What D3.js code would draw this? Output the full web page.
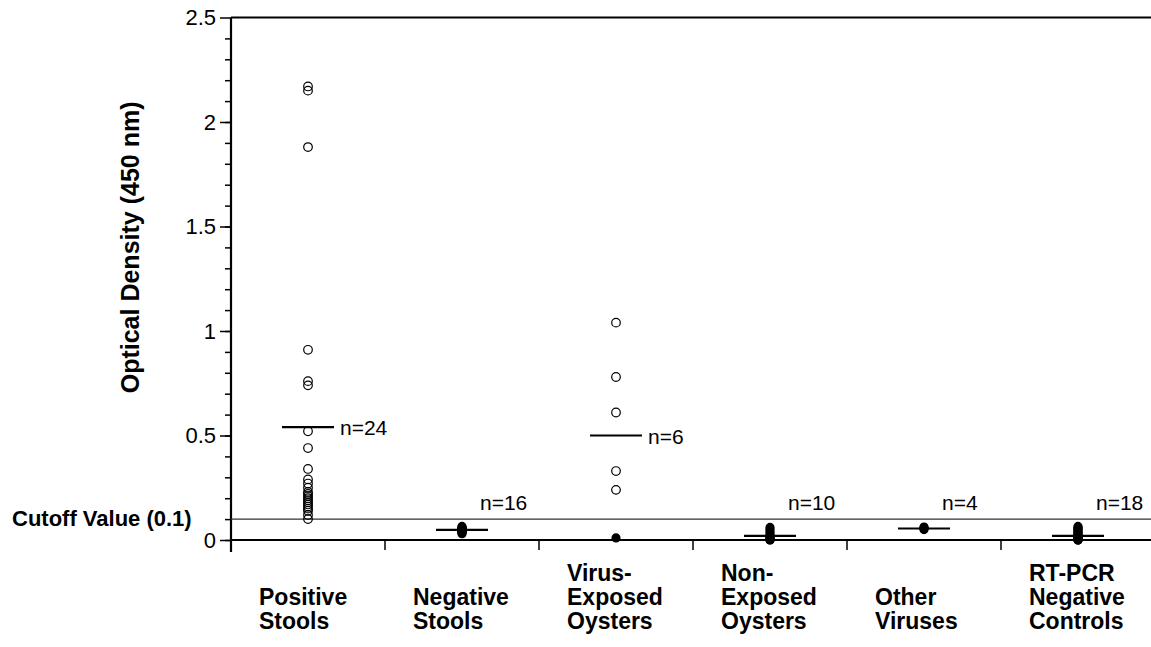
<!DOCTYPE html>
<html lang="en">
<meta charset="utf-8">
<script src="https://d3js.org/d3.v7.min.js"></script>
<style>
  body { margin: 0; background: #fff; }
  svg text { font-family: "Liberation Sans", Arial, sans-serif; fill: #000; }
  .lbl { font-weight: bold; }
</style>
<body>
<svg id="chart" width="1151" height="647"></svg>
<script>
// categories (label lines)
var categories = ["Positive Stools", "Negative Stools", "Virus-Exposed Oysters",
                  "Non-Exposed Oysters", "Other Viruses", "RT-PCR Negative Controls"];
var catLines = [["Positive", "Stools"], ["Negative", "Stools"], ["Virus-", "Exposed", "Oysters"],
                ["Non-", "Exposed", "Oysters"], ["Other", "Viruses"], ["RT-PCR", "Negative", "Controls"]];

// optical density values
var positiveStools = [2.17, 2.15, 1.88, 0.91, 0.76, 0.74, 0.52, 0.44, 0.34, 0.29, 0.27, 0.25,
                      0.23, 0.22, 0.21, 0.20, 0.19, 0.18, 0.17, 0.16, 0.15, 0.14, 0.12, 0.10];
var negativeStools = [0.03, 0.035, 0.04, 0.04, 0.04, 0.045, 0.045, 0.045, 0.05, 0.05, 0.05,
                      0.055, 0.055, 0.06, 0.06, 0.065];
var virusOysters = [1.04, 0.78, 0.61, 0.33, 0.24, 0.01];
var nonExpOysters = [0.06, 0.05, 0.04, 0.03, 0.02, 0.015, 0.01, 0.005, 0.0, 0.0];
var otherViruses = [0.062, 0.058, 0.055, 0.05];
var rtpcrNeg = [0.065, 0.06, 0.055, 0.05, 0.045, 0.04, 0.035, 0.03, 0.025, 0.02, 0.015,
                0.01, 0.01, 0.005, 0.005, 0, 0, 0];
var groupValues = [positiveStools, negativeStools, virusOysters, nonExpOysters, otherViruses, rtpcrNeg];

// mean bars
var means = [0.54, 0.048, 0.50, 0.02, 0.055, 0.02];
var nLabels = ["n=24", "n=16", "n=6", "n=10", "n=4", "n=18"];

var cutoff = 0.1;
var yMajor = [0, 0.5, 1, 1.5, 2, 2.5];
var yMinor = d3.range(0, 25).map(function(i) { return i / 10; });

var svg = d3.select("#chart");

var x = d3.scaleBand().domain(categories).range([231, 1155]);
var y = d3.scaleLinear().domain([0, 2.5]).range([540, 17.5]);

// minor ticks
svg.append("g")
  .attr("transform", "translate(231,0)")
  .call(d3.axisLeft(y).tickValues(yMinor).tickSize(6).tickFormat(""))
  .call(function(g) { g.select(".domain").remove(); })
  .selectAll("line").attr("stroke-width", 1.5);

// major ticks + labels
var yAx = svg.append("g")
  .attr("transform", "translate(231,0)")
  .call(d3.axisLeft(y).tickValues(yMajor).tickSize(11).tickPadding(4).tickFormat(d3.format("")));
yAx.select(".domain").remove();
yAx.selectAll("line").attr("stroke-width", 1.5);
yAx.selectAll("text").attr("font-size", 22).style("font-family", "Liberation Sans, Arial, sans-serif");

// y axis line
svg.append("line").attr("x1", 231).attr("x2", 231).attr("y1", y(2.5)).attr("y2", 552)
  .attr("stroke", "#000").attr("stroke-width", 2.2);
// top frame line
svg.append("line").attr("x1", 231).attr("x2", 1151).attr("y1", y(2.5)).attr("y2", y(2.5))
  .attr("stroke", "#000").attr("stroke-width", 2.2);
// x axis line
svg.append("line").attr("x1", 231).attr("x2", 1151).attr("y1", y(0)).attr("y2", y(0))
  .attr("stroke", "#000").attr("stroke-width", 2.2);
// cutoff line
svg.append("line").attr("x1", 231).attr("x2", 1151).attr("y1", y(cutoff)).attr("y2", y(cutoff))
  .attr("stroke", "#333").attr("stroke-width", 1.2);

// category separators
svg.selectAll(".sep").data(categories.slice(1)).enter().append("line")
  .attr("x1", function(d) { return x(d); }).attr("x2", function(d) { return x(d); })
  .attr("y1", y(0)).attr("y2", y(0) + 10)
  .attr("stroke", "#000").attr("stroke-width", 1.5);

// category labels
categories.forEach(function(c, i) {
  var lines = catLines[i];
  var t = svg.append("text").attr("class", "lbl").attr("font-size", 23)
    .attr("x", x(c) + x.bandwidth() / 2 - 49);
  lines.forEach(function(l, j) {
    t.append("tspan").attr("x", x(c) + x.bandwidth() / 2 - 49)
      .attr("y", 629 - (lines.length - 1 - j) * 24).text(l);
  });
});

// y title
svg.append("text").attr("class", "lbl").attr("font-size", 25)
  .attr("transform", "translate(139," + y(1.4) + ") rotate(-90)")
  .attr("text-anchor", "middle").text("Optical Density (450 nm)");

// cutoff label
svg.append("text").attr("class", "lbl").attr("font-size", 22)
  .attr("x", 12).attr("y", y(cutoff) + 7).text("Cutoff Value (0.1)");

// points
categories.forEach(function(c, i) {
  var cx = x(c) + x.bandwidth() / 2;
  svg.selectAll(".pt" + i).data(groupValues[i]).enter().append("circle")
    .attr("cx", cx).attr("cy", function(d) { return y(d); })
    .attr("r", function(d) { return d < cutoff ? 4 : 4.3; })
    .attr("fill", function(d) { return d < cutoff ? "#000" : "#fff"; })
    .attr("fill-opacity", function(d) { return d < cutoff ? 1 : 0; })
    .attr("stroke", "#000").attr("stroke-width", 1.2);

  // mean bar
  svg.append("line").attr("x1", cx - 26).attr("x2", cx + 26)
    .attr("y1", y(means[i])).attr("y2", y(means[i]))
    .attr("stroke", "#000").attr("stroke-width", 2.2);

  // n label
  var high = means[i] > 0.3;
  svg.append("text").attr("font-size", 21)
    .attr("x", high ? cx + 32 : cx + 18)
    .attr("y", high ? y(means[i]) + 8 : y(0.145))
    .text(nLabels[i]);
});
</script>
</body>
</html>
